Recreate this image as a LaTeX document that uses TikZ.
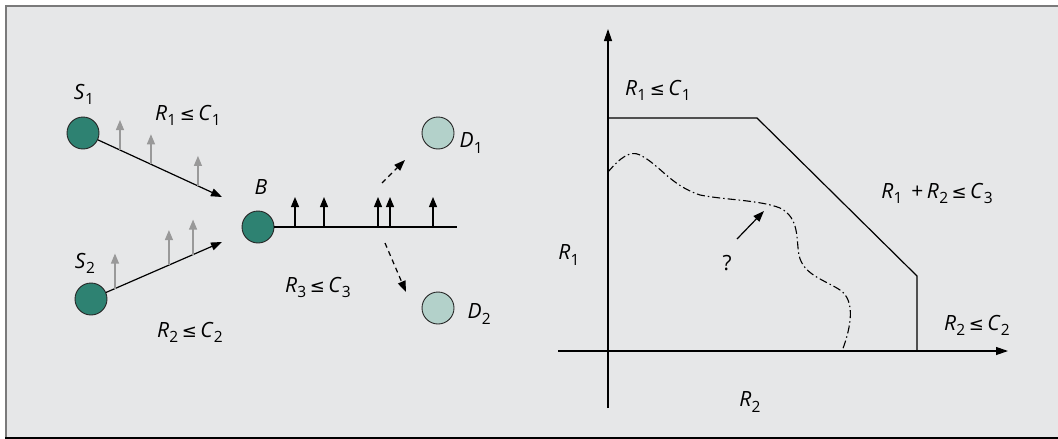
\documentclass[tikz,border=0pt]{standalone}
\usepackage{fontspec}
\setmainfont{Open Sans}
\newfontfamily\symfont{DejaVu Sans}
\usetikzlibrary{arrows.meta, positioning, calc}

\definecolor{panelgray}{HTML}{E6E7E8}
\definecolor{framegray}{HTML}{7A7A7A}
\definecolor{srcteal}{HTML}{2E8272}
\definecolor{dstteal}{HTML}{B3D1CA}

% rate / capacity symbol with upright subscript
\newcommand\rv[2]{\textit{#1}\kern0.3pt\raisebox{-0.45ex}{\fontsize{15.5}{15.5}\selectfont#2}}
\newcommand\lesym{{\symfont\fontsize{18}{18}\selectfont ≤}}

\begin{document}
\begin{tikzpicture}[
		x=1pt, y=-1pt,
		% nodes
		src/.style = {circle, draw=black!85, fill=srcteal, minimum size=32pt, inner sep=0pt, line width=0.9pt},
		dst/.style = {src, fill=dstteal},
		lbl/.style = {font=\fontsize{21}{22}\selectfont, inner sep=1pt},
		% lines
		link/.style = {line width=1.2pt, -{Triangle[length=11pt,width=8pt]}},
		hint/.style = {line width=1.2pt, draw=black!40, -{Triangle[length=10pt,width=8pt]}},
		bit/.style = {line width=1.2pt, -{Triangle[length=10pt,width=8pt]}},
		fwd/.style = {line width=1.2pt, dash pattern=on 5pt off 4pt, -{Triangle[length=11pt,width=8pt]}},
		axis/.style = {line width=1.2pt, -{Triangle[length=12pt,width=8pt]}},
		bound/.style = {line width=1.2pt},
		guess/.style = {line width=1.1pt, dash pattern=on 8pt off 3pt on 1.5pt off 3pt}
		]
		\useasboundingbox (0,0) rectangle (1058,439);
		
		% --- PANEL ---
		\fill[panelgray] (5,5) rectangle (1058,439);
		\draw[framegray, line width=1.6pt] (5.8,439) -- (5.8,5.8) -- (1058,5.8);
		\draw[black, line width=2pt] (5,438) -- (1058,438);
		
		% --- NETWORK (LEFT) ---
		\node [src] (s1) at (83,133) {};
		\node [src] (s2) at (91,299) {};
		\node [src] (b) at (258,227) {};
		\node [dst] (d1) at (438,133) {};
		\node [dst] (d2) at (438,308) {};
		
		\node [lbl, above=11pt of s1, xshift=1pt] (s1_lbl) {\rv{S}{1}};
		\node [lbl, above=8pt of s2, xshift=-6pt] (s2_lbl) {\rv{S}{2}};
		\node [lbl, above=15pt of b, xshift=3pt] (b_lbl) {\textit{B}};
		\node [lbl, right=4pt of d1, yshift=-10pt] (d1_lbl) {\rv{D}{1}};
		\node [lbl, right=12pt of d2, yshift=-6pt] (d2_lbl) {\rv{D}{2}};
		
		% enlaces hacia el relay
		\coordinate (b_in1) at (222,197);
		\coordinate (b_in2) at (222,242);
		\draw [link] (s1) -- (b_in1);
		\draw [link] (s2) -- (b_in2);
		
		% escuchas de cada fuente
		\foreach \t in {0.266, 0.489, 0.827}
			\draw [hint] ($(s1)!\t!(b_in1)$) -- ++(0,-30);
		\foreach \t in {0.183, 0.595, 0.779}
			\draw [hint] ($(s2)!\t!(b_in2)$) -- ++(0,-35);
		
		% difusion del relay
		\coordinate (b_out) at (457,227);
		\draw [bound] (b) -- (b_out);
		\foreach \dx in {37, 66, 120, 132, 175}
			\draw [bit] ($(b)+(\dx,0)$) -- ++(0,-30);
		
		\coordinate (up_from) at (382,183);
		\coordinate (up_to) at (405,160);
		\coordinate (dn_from) at (385,243);
		\coordinate (dn_to) at (406,292);
		\draw [fwd] (up_from) -- (up_to);
		\draw [fwd] (dn_from) -- (dn_to);
		
		\node [lbl] (r1c1) at (188,115) {\rv{R}{1}\,\lesym\,\rv{C}{1}};
		\node [lbl] (r2c2) at (190,332) {\rv{R}{2}\,\lesym\,\rv{C}{2}};
		\node [lbl] (r3c3) at (318,287) {\rv{R}{3}\,\lesym\,\rv{C}{3}};
		
		% --- CAPACITY REGION (RIGHT) ---
		\coordinate (o) at (608,351);
		\coordinate (y_lo) at (608,408);
		\coordinate (y_hi) at (608,29);
		\coordinate (x_lo) at (558,351);
		\coordinate (x_hi) at (1008,351);
		\draw [axis] (y_lo) -- (y_hi);
		\draw [axis] (x_lo) -- (x_hi);
		
		\coordinate (c_top) at (608,118);
		\coordinate (c_k1) at (757,118);
		\coordinate (c_k2) at (917,276);
		\coordinate (c_bot) at (917,351);
		\draw [bound] (c_top) -- (c_k1) -- (c_k2) -- (c_bot);
		
		% region alcanzable (desconocida)
		\draw [guess] (608,172) .. controls (620,158) and (630,150) .. (640,155)
			.. controls (660,165) and (670,185) .. (700,195)
			.. controls (725,200) and (760,200) .. (780,208)
			.. controls (800,218) and (796,240) .. (799,255)
			.. controls (803,275) and (825,280) .. (840,290)
			.. controls (855,300) and (852,325) .. (842,351);
		
		\node [lbl] (q) at (727,263) {?};
		\coordinate (q_tail) at (737,239);
		\coordinate (q_tip) at (764,211);
		\draw [link] (q_tail) -- (q_tip);
		
		\node [lbl] (a_c1) at (658,90) {\rv{R}{1}\,\lesym\,\rv{C}{1}};
		\node [lbl] (a_c3) at (937,193) {\rv{R}{1} \,+\,\rv{R}{2}\,\lesym\,\rv{C}{3}};
		\node [lbl] (a_c2) at (977,325) {\rv{R}{2}\,\lesym\,\rv{C}{2}};
		\node [lbl] (ax_r1) at (569,255) {\rv{R}{1}};
		\node [lbl] (ax_r2) at (750,402) {\rv{R}{2}};
	\end{tikzpicture}
\end{document}
